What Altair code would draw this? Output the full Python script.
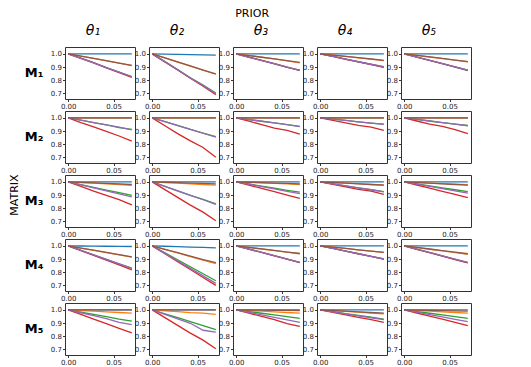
import altair as alt
import pandas as pd

# x positions of the sampled points
XS = [0.0, 0.014, 0.028, 0.042, 0.056, 0.07]
SERIES = ["blue", "orange", "green", "red", "purple", "brown"]
COLORS = ["#1f77b4", "#ff7f0e", "#2ca02c", "#d62728", "#9467bd", "#8c564b"]
MATRICES = ["M\u2081", "M\u2082", "M\u2083", "M\u2084", "M\u2085"]
PRIORS = ["\u03b8\u2081", "\u03b8\u2082", "\u03b8\u2083", "\u03b8\u2084", "\u03b8\u2085"]

F = [1, 1, 1, 1, 1]  # flat line at 1.0 (values after the first point)

# values after x=0 (the first point is always 1.0), order: blue, orange, green, red, purple, brown
M1 = [
    [F, [.983, .965, .947, .930, .910], [.967, .933, .896, .862, .828], [.965, .931, .893, .858, .822], [.966, .932, .895, .861, .826], [.982, .966, .948, .929, .912]],
    [[.998, .996, .994, .992, .990], [.969, .938, .907, .876, .845], [.941, .880, .818, .762, .703], [.939, .877, .815, .755, .690], [.940, .879, .817, .760, .698], [.970, .939, .908, .877, .848]],
    [F, [.988, .975, .962, .946, .932], [.975, .951, .924, .898, .876], [.975, .950, .925, .900, .875], [.974, .949, .925, .900, .873], [.987, .974, .961, .949, .936]],
    [F, [.990, .980, .970, .960, .948], [.980, .960, .940, .920, .900], [.980, .959, .939, .919, .898], [.980, .960, .940, .921, .902], [.990, .980, .971, .961, .951]],
    [F, [.988, .976, .964, .952, .940], [.975, .950, .925, .900, .873], [.975, .950, .925, .901, .876], [.975, .951, .926, .901, .877], [.988, .977, .965, .953, .941]],
]
M2 = [
    [F, F, [.982, .964, .946, .925, .912], [.964, .932, .897, .862, .823], [.982, .964, .946, .929, .908], F],
    [F, F, [.971, .942, .913, .884, .857], [.940, .880, .825, .775, .700], [.971, .941, .912, .883, .853], F],
    [F, F, [.987, .974, .961, .948, .936], [.976, .948, .922, .905, .876], [.987, .974, .961, .948, .933], F],
    [F, F, [.990, .980, .970, .960, .952], [.981, .962, .943, .930, .905], [.990, .980, .970, .960, .950], F],
    [F, F, [.988, .976, .964, .952, .942], [.976, .952, .935, .910, .880], [.988, .976, .964, .952, .940], F],
]
M3 = [
    [F, [.995, .990, .985, .980, .974], [.979, .958, .937, .918, .897], [.965, .930, .897, .865, .825], [.977, .954, .931, .908, .886], [.996, .992, .988, .984, .980]],
    [F, [.995, .990, .985, .980, .975], [.966, .932, .898, .866, .832], [.941, .882, .823, .770, .705], [.966, .931, .897, .864, .829], [.997, .994, .991, .988, .985]],
    [F, [.996, .992, .988, .984, .980], [.984, .968, .952, .936, .922], [.975, .950, .925, .900, .874], [.982, .964, .947, .928, .910], [.997, .994, .991, .988, .985]],
    [F, [.995, .990, .986, .980, .976], [.985, .970, .955, .940, .926], [.981, .962, .943, .930, .905], [.985, .970, .955, .940, .924], [.995, .990, .985, .980, .975]],
    [F, [.996, .991, .987, .982, .978], [.985, .970, .955, .940, .926], [.976, .952, .928, .904, .880], [.983, .966, .949, .932, .914], [.995, .990, .985, .980, .975]],
]
M4 = [
    [[.999, .998, .997, .996, .995], [.983, .966, .949, .932, .914], [.966, .932, .898, .864, .830], [.964, .928, .892, .856, .818], [.966, .931, .897, .863, .829], [.983, .967, .950, .933, .917]],
    [[.997, .994, .991, .988, .985], [.973, .946, .919, .892, .864], [.947, .894, .841, .788, .735], [.940, .880, .820, .760, .700], [.943, .886, .829, .772, .715], [.974, .948, .922, .896, .872]],
    [F, [.988, .976, .964, .952, .940], [.975, .950, .925, .900, .875], [.975, .950, .924, .899, .873], [.975, .950, .925, .900, .875], [.988, .977, .965, .953, .942]],
    [F, [.990, .980, .970, .960, .950], [.980, .960, .940, .920, .900], [.980, .960, .940, .920, .899], [.980, .960, .940, .920, .900], [.990, .980, .970, .960, .951]],
    [F, [.987, .974, .961, .948, .935], [.974, .949, .923, .898, .872], [.974, .948, .922, .896, .870], [.975, .950, .924, .899, .875], [.988, .976, .964, .952, .940]],
]
M5 = [
    [F, [.995, .990, .985, .980, .975], [.983, .966, .949, .930, .915], [.965, .930, .895, .860, .825], [.978, .956, .934, .905, .888], F],
    [F, [.993, .986, .979, .975, .965], [.970, .940, .910, .880, .850], [.941, .882, .823, .770, .705], [.966, .932, .898, .845, .830], F],
    [F, [.995, .990, .985, .980, .975], [.987, .974, .961, .948, .935], [.975, .950, .925, .895, .875], [.981, .962, .943, .924, .905], [.999, .998, .997, .996, .995]],
    [F, [.994, .988, .982, .976, .970], [.986, .972, .958, .944, .930], [.981, .962, .943, .925, .905], [.985, .970, .955, .940, .925], [.995, .990, .985, .980, .975]],
    [F, [.995, .990, .985, .980, .975], [.987, .974, .961, .948, .935], [.976, .952, .930, .905, .880], [.982, .964, .946, .928, .910], [.998, .996, .994, .992, .990]],
]
ALL = [M1, M2, M3, M4, M5]

rows = []
for mi, mat in enumerate(ALL):
    for pi, panel in enumerate(mat):
        for si, vals in enumerate(panel):
            full = [1.0] + list(vals)
            for x, v in zip(XS, full):
                rows.append({"matrix": MATRICES[mi], "prior": PRIORS[pi],
                             "s": SERIES[si], "x": x, "v": v})
df = pd.DataFrame(rows)

base = alt.Chart(df).mark_line(strokeWidth=1.3, opacity=1, clip=True).encode(
    x=alt.X("x:Q", scale=alt.Scale(domain=[-0.0035, 0.0735], nice=False, zero=False),
            axis=alt.Axis(values=[0, 0.05], format=".2f", title=None)),
    y=alt.Y("v:Q", scale=alt.Scale(domain=[0.657, 1.052], nice=False, zero=False),
            axis=alt.Axis(values=[0.7, 0.8, 0.9, 1.0], format=".1f", title=None)),
    color=alt.Color("s:N", scale=alt.Scale(domain=SERIES, range=COLORS), legend=None),
    order=alt.Order("x:Q"),
).properties(width=70, height=52)

grid = base.facet(
    row=alt.Row("matrix:N", sort=MATRICES,
                header=alt.Header(title=None,
                                  labelAngle=0, labelFontSize=13, labelFontWeight="bold",
                                  labelFont="DejaVu Sans", labelPadding=3, labelColor="#000")),
    column=alt.Column("prior:N", sort=PRIORS,
                      header=alt.Header(title=None,
                                        labelFontSize=14, labelFontStyle="italic",
                                        labelFont="DejaVu Sans", labelPadding=9,
                                        labelAlign="right", labelColor="#000")),
    spacing={"row": 12, "column": 14},
    bounds="flush",
).resolve_axis(
    x="independent", y="independent"
).properties(
    title=alt.TitleParams("MATRIX", orient="left", fontSize=11, fontWeight="normal",
                          font="DejaVu Sans", anchor="middle", offset=5, color="#000"),
)

chart = alt.hconcat(grid).properties(
    title=alt.TitleParams("PRIOR", fontSize=11, fontWeight="normal", font="DejaVu Sans",
                          anchor="middle", offset=5, dx=12, color="#000"),
    padding={"left": 0, "top": 0, "right": 5, "bottom": 0},
).configure_view(
    stroke="#333", strokeWidth=1
).configure_axis(
    labelFont="DejaVu Sans", labelFontSize=7, labelColor="#222",
    tickSize=2.5, tickColor="#333", domain=False, grid=False, labelPadding=1,
)

chart.save("out.html", embed_options={"renderer": "svg", "actions": False})
